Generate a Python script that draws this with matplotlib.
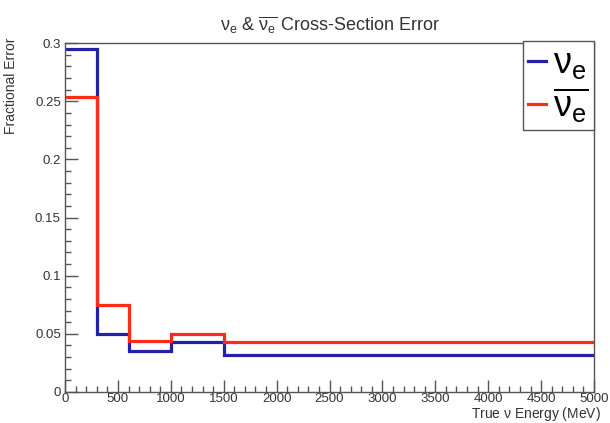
import numpy as np
import matplotlib.pyplot as plt
from matplotlib.ticker import MultipleLocator

plt.rcParams['font.family'] = ['Liberation Sans', 'DejaVu Sans']
plt.rcParams['mathtext.fontset'] = 'custom'
plt.rcParams['mathtext.rm'] = 'Liberation Sans'
plt.rcParams['mathtext.it'] = 'Liberation Sans'

# Energy bin edges (MeV) and fractional cross-section errors
edges = [0, 300, 600, 1000, 1500, 5000]
nue_err = [0.295, 0.050, 0.0355, 0.043, 0.032]
nuebar_err = [0.254, 0.075, 0.044, 0.050, 0.043]

blue = '#2222a6'
red = '#ff2a18'
grey = '#555555'
txt = '#333333'

fig = plt.figure(figsize=(6.1, 4.23), dpi=100)
ax = fig.add_axes([0.1066, 0.0733, 0.8672, 0.8247])

ax.stairs(nue_err, edges, baseline=None, color=blue, lw=2.3, label=r'$\nu_e$')
ax.stairs(nuebar_err, edges, baseline=None, color=red, lw=2.3,
          label=r'$\overline{\nu_e}$')

ax.set_xlim(0, 5000)
ax.set_ylim(0, 0.3)
ax.xaxis.set_major_locator(MultipleLocator(500))
ax.xaxis.set_minor_locator(MultipleLocator(100))
ax.yaxis.set_minor_locator(MultipleLocator(0.01))
ax.set_yticks([0, 0.05, 0.1, 0.15, 0.2, 0.25, 0.3])
ax.set_yticklabels(['0', '0.05', '0.1', '0.15', '0.2', '0.25', '0.3'])

ax.tick_params(which='both', direction='in', top=False, right=False,
               colors=grey, labelcolor=txt, labelsize=9.5)
ax.tick_params(which='major', length=9, width=1)
ax.tick_params(which='minor', length=4.5, width=1)
ax.tick_params(axis='x', pad=1)
ax.tick_params(axis='y', pad=3)
for s in ax.spines.values():
    s.set_color(grey)
    s.set_linewidth(1)

ax.set_title(r'$\nu_e$ & $\overline{\nu_e}$ Cross-Section Error',
             fontsize=13, color=txt, pad=9)
ax.set_xlabel(r'True $\nu$ Energy (MeV)', fontsize=10, color=txt, ha='right')
ax.xaxis.set_label_coords(1.013, -0.037)
ax.set_ylabel('Fractional Error', fontsize=10, color=txt, ha='right')
ax.yaxis.set_label_coords(-0.089, 1.017)

leg = ax.legend(loc='upper right', bbox_to_anchor=(1.0, 1.006), fontsize=26,
                handlelength=0.5, handletextpad=0.2, borderpad=0.15,
                labelspacing=0.1, fancybox=False, framealpha=1,
                edgecolor=grey, borderaxespad=0)
leg.get_frame().set_linewidth(1)

plt.savefig('out.png', dpi=100)
